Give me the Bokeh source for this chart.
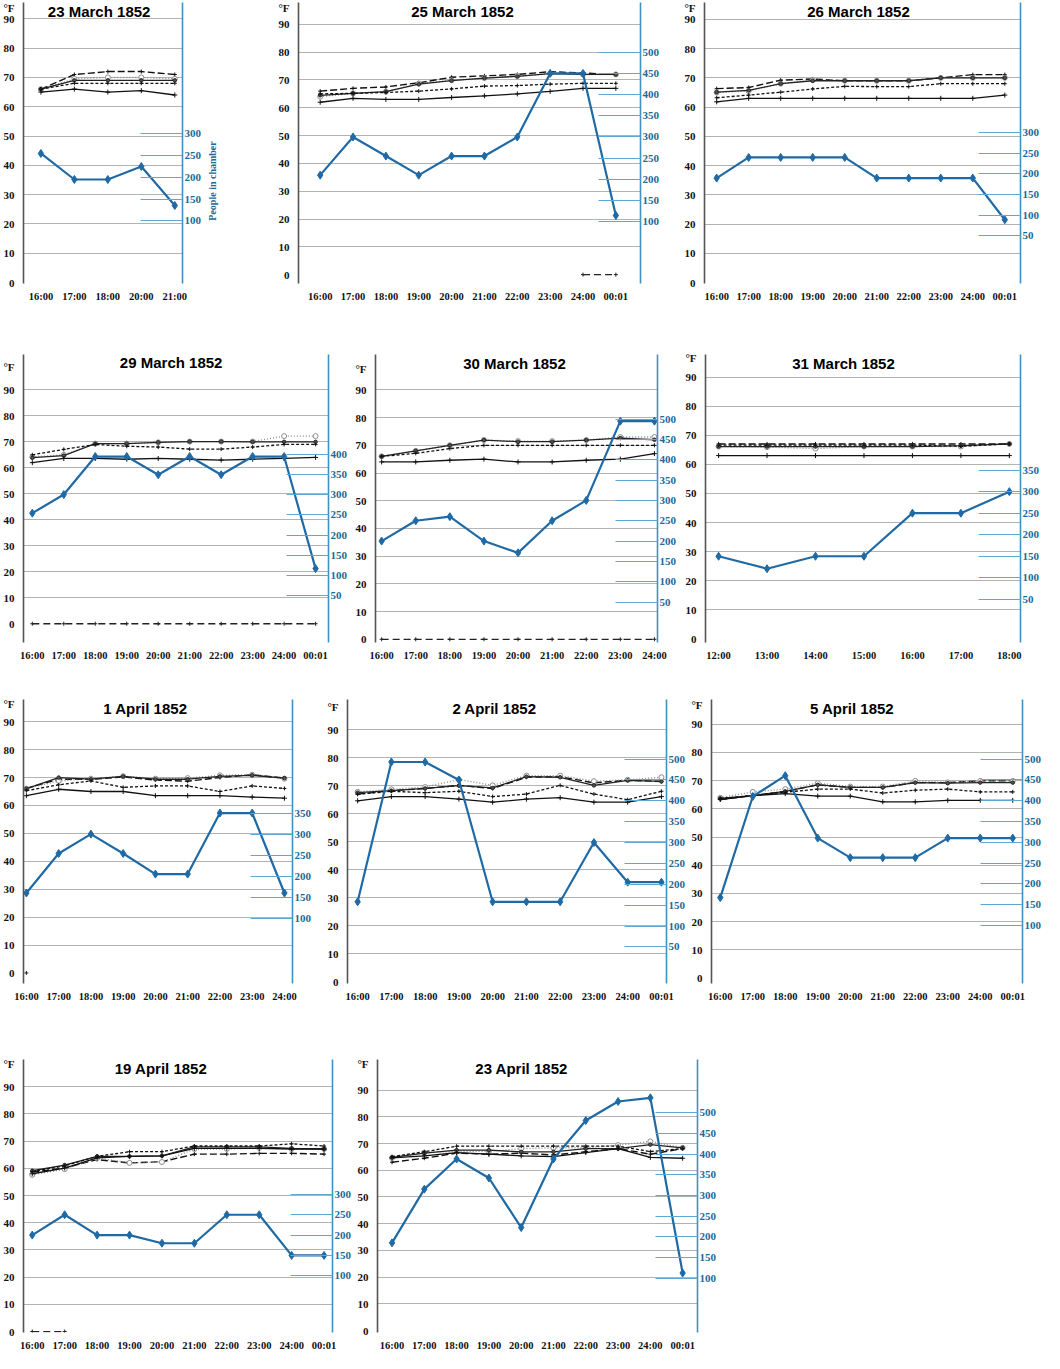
import math
from bokeh.plotting import figure
from bokeh.layouts import column, row
from bokeh.models import Range1d, LinearAxis, FixedTicker, Label
from bokeh.embed import file_html
from bokeh.resources import INLINE

# ---------------- data ----------------
T5 = ["16:00", "17:00", "18:00", "20:00", "21:00"]
T10 = ["16:00", "17:00", "18:00", "19:00", "20:00", "21:00", "22:00", "23:00", "24:00", "00:01"]
T9 = ["16:00", "17:00", "18:00", "19:00", "20:00", "21:00", "22:00", "23:00", "24:00"]
T7 = ["12:00", "13:00", "14:00", "15:00", "16:00", "17:00", "18:00"]

MAR23_LONG = [66, 71, 72, 72, 71]
MAR23_CIRC = [66, 69.5, 70, 70, 69.5]
MAR23_UPPER = [66, 69, 69, 69, 69]
MAR23_SHORT = [66, 68, 68, 68, 68]
MAR23_LOWER = [65, 66, 65, 65.5, 64]
MAR23_PEOPLE = [255, 195, 195, 225, 135]
MAR23_TICKS = [100, 150, 200, 250, 300]

MAR25_LONG = [66, 67, 67.5, 69, 71, 71.5, 72, 73, 72.5, 72]
MAR25_UPPER = [64.5, 65.2, 65.8, 68.5, 69.8, 70.7, 71.3, 72.3, 72, 72]
MAR25_CIRC = [64, 65.2, 65.8, 68.7, 69.9, 70.7, 71.4, 72.3, 72, 72]
MAR25_SHORT = [65, 65.2, 65.5, 66, 66.8, 67.8, 68, 68.5, 68.8, 68.8]
MAR25_LOWER = [62, 63.4, 63, 63, 63.7, 64.3, 65, 65.9, 67, 67]
MAR25_ZERO = [None, None, None, None, None, None, None, None, 0, 0]
MAR25_PEOPLE = [210, 300, 255, 210, 255, 255, 300, 450, 450, 115]
MAR25_TICKS = [100, 150, 200, 250, 300, 350, 400, 450, 500]

MAR26_LONG = [66.3, 66.7, 69.2, 69.6, 69, 69, 69, 70, 71.1, 71.1]
MAR26_UPPER = [65.1, 65.7, 68, 69, 69, 69, 69, 70, 70, 70]
MAR26_CIRC = [65, 65.5, 68, 69.2, 69, 69, 69, 70, 70, 70]
MAR26_SHORT = [63.2, 64.1, 65.1, 66.2, 67.1, 67, 67, 68, 68, 68]
MAR26_LOWER = [61.8, 63, 63, 63, 63, 63, 63, 63, 63, 64.1]
MAR26_PEOPLE = [190, 240, 240, 240, 240, 190, 190, 190, 190, 89]
MAR26_TICKS = [50, 100, 150, 200, 250, 300]

MAR29_CIRC = [64.2, 65, 69.3, 69.3, 69.8, 70.1, 70.1, 70.1, 72.2, 72.2]
MAR29_UPPER = [63.9, 64.7, 69.3, 69.3, 69.8, 70.1, 70.1, 70, 70, 70]
MAR29_SHORT = [65, 67.1, 69, 68.3, 68, 67.2, 67.2, 68, 69, 69]
MAR29_LOWER = [62, 63.6, 63.6, 63.3, 63.6, 63.3, 63, 63.3, 63.6, 64]
MAR29_ZERO = [0, 0, 0, 0, 0, 0, 0, 0, 0, 0]
MAR29_PEOPLE = [254, 300, 394, 394, 349, 394, 349, 394, 394, 117]
MAR29_TICKS = [50, 100, 150, 200, 250, 300, 350, 400]

MAR30_UPPER = [66, 68, 70, 71.9, 71.3, 71.3, 71.9, 72.6, 72]
MAR30_CIRC = [66, 68, 70, 71.9, 71.5, 71.5, 71.9, 73, 73]
MAR30_SHORT = [66, 67.1, 68.8, 70, 70, 70, 70, 70, 70]
MAR30_LOWER = [64, 64, 64.6, 65, 64, 64, 64.6, 65, 67]
MAR30_ZERO = [0, 0, 0, 0, 0, 0, 0, 0, 0]
MAR30_PEOPLE = [200, 250, 260, 200, 171, 250, 300, 495, 495]
MAR30_TICKS = [50, 100, 150, 200, 250, 300, 350, 400, 450, 500]

MAR31_LONG = [67, 67, 67, 67, 67, 67, 67]
MAR31_CIRC = [66.1, 65.9, 65.4, 66.1, 66.1, 66.1, 67]
MAR31_UPPER = [66.1, 66.1, 66.1, 66.1, 66.1, 66.4, 67]
MAR31_SHORT = [66.6, 66.6, 66.6, 66.6, 66.6, 66.2, 67]
MAR31_LOWER = [63, 63, 63, 63, 63, 63, 63]
MAR31_PEOPLE = [150, 121, 150, 150, 250, 250, 300]
MAR31_TICKS = [50, 100, 150, 200, 250, 300, 350]

APR1_LONG = [66.1, 69.4, 69.4, 70.2, 69.1, 68.7, 70, 71, 69.8]
APR1_UPPER = [66, 70, 69.4, 70.4, 69.4, 69.4, 70.4, 70.8, 69.8]
APR1_CIRC = [66, 68.8, 69.6, 70.5, 69.6, 69.8, 70.8, 71, 69.6]
APR1_SHORT = [65.3, 67.4, 68.8, 66.5, 67, 67, 65, 67, 66.1]
APR1_LOWER = [63.5, 65.8, 65, 65, 63.5, 63.5, 63.5, 63, 62.6]
APR1_ZERO = [0, None, None, None, None, None, None, None, None]
APR1_PEOPLE = [160, 254, 300, 254, 205, 205, 350, 350, 160]
APR1_TICKS = [100, 150, 200, 250, 300, 350]

APR2_LONG = [67, 68.2, 69, 70.1, 69, 73, 73.2, 71, 71.9, 71.5]
APR2_UPPER = [67.5, 68.2, 69, 70, 69.2, 73.2, 73, 70.1, 71.9, 71.5]
APR2_CIRC = [67.8, 68.7, 69.5, 72.2, 70.1, 73.6, 73.6, 71.6, 72.1, 73]
APR2_SHORT = [66.9, 68, 67.5, 68, 66.1, 67, 70.1, 67, 65, 68]
APR2_LOWER = [64.6, 66.1, 66.1, 65.2, 64.1, 65.2, 65.7, 64.1, 64.1, 66.1]
APR2_PEOPLE = [158, 493, 493, 450, 158, 158, 158, 300, 205, 205]
APR2_TICKS = [50, 100, 150, 200, 250, 300, 350, 400, 450, 500]

APR5_LONG = [63.3, 64.7, 66.2, 68.5, 67.6, 67.6, 69.3, 69.3, 69.9, 69.9]
APR5_UPPER = [63.7, 64.7, 66.2, 68.5, 67.6, 67.6, 69.3, 69.1, 69.3, 69.3]
APR5_CIRC = [63.9, 66, 67, 69.1, 67.9, 67.9, 69.9, 69.4, 69.9, 69.9]
APR5_SHORT = [63.7, 64.7, 65.9, 67, 67, 65.6, 66.6, 67, 66, 66]
APR5_LOWER = [63.3, 64.7, 65.4, 64.5, 64.5, 62.5, 62.5, 63, 63, 63]
APR5_PEOPLE = [167, 410, 460, 310, 263, 263, 263, 310, 310, 310]
APR5_TICKS = [100, 150, 200, 250, 300, 350, 400, 450, 500]

APR19_SHORT = [58.8, 60.9, 64.4, 66.1, 66.1, 68.2, 68.2, 68.2, 69, 68.2]
APR19_UPPER = [59.1, 61.2, 64.4, 64.4, 64.6, 67.9, 67.9, 67.9, 67.3, 67.1]
APR19_CIRC = [57.6, 59.7, 63.8, 62, 62.3, 67.1, 67.1, 67.5, 67.1, 67.1]
APR19_LOWER = [58, 60.1, 63.8, 64.4, 64.6, 67.3, 67.3, 67.3, 67.1, 67.1]
APR19_LONG = [58.6, 60.1, 63.2, 62, 62.4, 65.2, 65.2, 65.5, 65.5, 65.2]
APR19_ZERO = [0, 0, None, None, None, None, None, None, None, None]
APR19_PEOPLE = [200, 250, 200, 200, 180, 180, 250, 250, 150, 150]
APR19_TICKS = [100, 150, 200, 250, 300]

APR23_SHORT = [65.1, 66.9, 69, 69, 69, 69, 69, 69, 67, 68.1]
APR23_UPPER = [64.8, 66.4, 67.5, 67.5, 66.9, 66.9, 68.1, 68.1, 69.6, 68.4]
APR23_CIRC = [64.6, 66.6, 67.1, 67.1, 68.1, 68.4, 68.4, 69.4, 70.8, 68.4]
APR23_LONG = [63, 64.5, 66.4, 66, 66.4, 65.7, 66.9, 68.1, 66, 68.1]
APR23_LOWER = [64.6, 65.4, 66.6, 66, 65.4, 65.1, 66.6, 68.1, 64.8, 64.5]
APR23_PEOPLE = [185, 315, 388, 342, 222, 388, 481, 527, 536, 112]
APR23_TICKS = [100, 150, 200, 250, 300, 350, 400, 450, 500]

TEMP_TICKS = [0, 10, 20, 30, 40, 50, 60, 70, 80, 90]
GRID_TICKS = [10, 20, 30, 40, 50, 60, 70, 80, 90]
PEOPLE_LABEL = "People in chamber"

# ---------------- styles ----------------
BLUE = "#1f6aa5"
AXBLUE = "#3f92c2"
TICKBLUE = "#5fa8d2"
LABBLUE = "#1d6a98"
STYLES = {
    "LONG": dict(color="#111111", dash="7 3", width=1.4, marker="cross", ms=4, fill="#111111"),
    "CIRC": dict(color="#8c8c8c", dash="1 2", width=1.4, marker="circle", ms=5, fill="white"),
    "UPPER": dict(color="#222222", dash="solid", width=1.3, marker="circle", ms=3.5, fill="#555555"),
    "SHORT": dict(color="#111111", dash="3 2", width=1.3, marker="cross", ms=4, fill="#111111"),
    "LOWER": dict(color="#111111", dash="solid", width=1.3, marker="cross", ms=5, fill="#111111"),
    "ZERO": dict(color="#222222", dash="7 4", width=1.3, marker="cross", ms=4, fill="#222222"),
}
SERIF = "Liberation Serif"
SANS = "Liberation Sans"


def clean(v):
    return [float("nan") if a is None else a for a in v]


def panel(title, times, series, people, pticks, g, rowtop, rowbot, label_at=None):
    cl, cr, fl, fr, y0, pxd, fb, padl, padr, t0, k, tx, ty, fy = g
    ft = ty - 9
    n = len(times)
    xs = list(range(n))
    xmin, xmax = -padl, n - 1 + padr
    ymin = -(fb - y0) / pxd
    ymax = (y0 - ft) / pxd
    p = figure(width=cr - cl, height=rowbot - rowtop,
               x_range=Range1d(xmin, xmax), y_range=Range1d(ymin, ymax),
               output_backend="svg", toolbar_location=None,
               min_border_left=fl - cl, min_border_right=cr - fr,
               min_border_top=ft - rowtop, min_border_bottom=rowbot - fb)
    p.outline_line_color = None
    p.background_fill_color = "white"
    p.border_fill_color = "white"
    p.xgrid.grid_line_color = None
    p.ygrid.ticker = FixedTicker(ticks=GRID_TICKS)
    p.ygrid.grid_line_color = "#b3b3b3"
    p.ygrid.grid_line_width = 1.2

    fval = round((y0 - fy) / pxd, 2)
    ya = p.yaxis[0]
    ya.ticker = FixedTicker(ticks=TEMP_TICKS + [fval])
    ya.major_label_overrides = {fval: "°F"}
    ya.axis_line_color = "#555555"
    ya.axis_line_width = 1.6
    ya.major_tick_line_color = None
    ya.minor_tick_line_color = None
    ya.major_label_text_font = SERIF
    ya.major_label_text_font_style = "bold"
    ya.major_label_text_font_size = "11px"
    ya.major_label_text_color = "#111111"
    ya.major_label_standoff = 3

    xa = p.xaxis[0]
    xa.ticker = FixedTicker(ticks=xs)
    xa.major_label_overrides = {i: t for i, t in enumerate(times)}
    xa.axis_line_color = None
    xa.major_tick_line_color = None
    xa.minor_tick_line_color = None
    xa.major_label_text_font = SERIF
    xa.major_label_text_font_style = "bold"
    xa.major_label_text_font_size = "10.5px"
    xa.major_label_text_color = "#111111"
    xa.major_label_standoff = 1

    p.extra_y_ranges = {"people": Range1d((ymin - t0) / k, (ymax - t0) / k)}
    ra = LinearAxis(y_range_name="people", ticker=FixedTicker(ticks=pticks))
    ra.axis_line_color = AXBLUE
    ra.axis_line_width = 1.6
    ra.major_tick_in = 42
    ra.major_tick_out = 0
    ra.major_tick_line_color = TICKBLUE
    ra.major_tick_line_width = 1
    ra.minor_tick_line_color = None
    ra.major_label_text_font = SERIF
    ra.major_label_text_font_style = "bold"
    ra.major_label_text_font_size = "11px"
    ra.major_label_text_color = LABBLUE
    ra.major_label_standoff = 2
    p.add_layout(ra, "right")

    if label_at is not None:
        la = LinearAxis(y_range_name="people", ticker=FixedTicker(ticks=[label_at]))
        la.major_label_overrides = {label_at: PEOPLE_LABEL}
        la.major_label_orientation = math.pi / 2
        la.axis_line_color = None
        la.major_tick_line_color = None
        la.minor_tick_line_color = None
        la.major_label_text_font = SERIF
        la.major_label_text_font_style = "bold"
        la.major_label_text_font_size = "10px"
        la.major_label_text_color = LABBLUE
        la.major_label_standoff = 2
        p.add_layout(la, "right")

    for name, vals in series:
        s = STYLES[name]
        v = clean(vals)
        p.line(xs, v, line_color=s["color"], line_dash=s["dash"], line_width=s["width"])
        p.scatter(xs, v, marker=s["marker"], size=s["ms"], line_color=s["color"],
                  fill_color=s["fill"], line_width=1)

    p.line(xs, people, y_range_name="people", line_color=BLUE, line_width=2.2)
    p.scatter(xs, people, y_range_name="people", marker="diamond", size=8,
              line_color=BLUE, fill_color=BLUE)

    tdx = xmin + (tx - fl) / (fr - fl) * (xmax - xmin)
    tdy = (y0 - ty) / pxd
    p.add_layout(Label(x=tdx, y=tdy, text=title, text_align="center", text_baseline="middle",
                       text_font=SANS, text_font_style="bold", text_font_size="15px",
                       text_color="#000000"))
    return p


# geometry: canvas l/r, frame l/r, y of 0°F, px per degree, frame bottom,
# x pads, people mapping (t0, k), title centre x/y, °F y
G = {
    "MAR23": (8, 250, 26, 190, 290, 2.94, 291, 0.52, 0.23, 6.3, 0.148, 104, 18, 15),
    "MAR25": (250, 680, 306, 648, 285, 2.82, 294, 0.66, 0.75, 3.75, 0.1525, 470, 18, 15),
    "MAR26": (680, 1052, 712, 1028, 304, 3.07, 305, 0.38, 0.49, 8.9, 0.1412, 866, 19, 16),
    "MAR29": (8, 360, 22, 336, 638, 2.77, 658, 0.28, 0.41, 3.0, 0.1557, 174, 360, 364),
    "MAR30": (360, 690, 383, 665, 651.6, 2.925, 655, 0.18, 0.09, 6.1, 0.1467, 522, 360, 366),
    "MAR31": (690, 1052, 713, 1028, 646.4, 2.91, 650, 0.27, 0.23, 6.2, 0.148, 851, 371, 366),
    "APR1": (8, 330, 22, 300, 986.2, 2.85, 997, 0.09, 0.25, 4.5, 0.1508, 148, 716, 712),
    "APR2": (330, 696, 355, 674, 996.2, 2.89, 998, 0.3, 0.15, 5.0, 0.149, 502, 714, 713),
    "APR5": (696, 1052, 716, 1030, 992.4, 2.91, 998, 0.27, 0.3, 3.9, 0.1475, 858, 714, 711),
    "APR19": (8, 362, 22, 341, 1347, 2.8, 1348, 0.27, 0.26, 5.55, 0.1495, 164, 1076, 1072),
    "APR23": (362, 730, 383, 705, 1346, 2.75, 1348, 0.45, 0.46, 4.2, 0.1547, 528, 1076, 1072),
}
R1, R2, R3, R4, R5 = 8, 320, 672, 1012, 1361

p1 = panel("23 March 1852", T5, [("LONG", MAR23_LONG), ("CIRC", MAR23_CIRC), ("UPPER", MAR23_UPPER),
                                  ("SHORT", MAR23_SHORT), ("LOWER", MAR23_LOWER)],
           MAR23_PEOPLE, MAR23_TICKS, G["MAR23"], R1, R2, label_at=100)
p2 = panel("25 March 1852", T10, [("LONG", MAR25_LONG), ("CIRC", MAR25_CIRC), ("UPPER", MAR25_UPPER),
                                   ("SHORT", MAR25_SHORT), ("LOWER", MAR25_LOWER), ("ZERO", MAR25_ZERO)],
           MAR25_PEOPLE, MAR25_TICKS, G["MAR25"], R1, R2)
p3 = panel("26 March 1852", T10, [("LONG", MAR26_LONG), ("CIRC", MAR26_CIRC), ("UPPER", MAR26_UPPER),
                                   ("SHORT", MAR26_SHORT), ("LOWER", MAR26_LOWER)],
           MAR26_PEOPLE, MAR26_TICKS, G["MAR26"], R1, R2)
p4 = panel("29 March 1852", T10, [("CIRC", MAR29_CIRC), ("UPPER", MAR29_UPPER), ("SHORT", MAR29_SHORT),
                                   ("LOWER", MAR29_LOWER), ("ZERO", MAR29_ZERO)],
           MAR29_PEOPLE, MAR29_TICKS, G["MAR29"], R2, R3)
p5 = panel("30 March 1852", T9, [("CIRC", MAR30_CIRC), ("UPPER", MAR30_UPPER), ("SHORT", MAR30_SHORT),
                                  ("LOWER", MAR30_LOWER), ("ZERO", MAR30_ZERO)],
           MAR30_PEOPLE, MAR30_TICKS, G["MAR30"], R2, R3)
p6 = panel("31 March 1852", T7, [("LONG", MAR31_LONG), ("CIRC", MAR31_CIRC), ("UPPER", MAR31_UPPER),
                                  ("SHORT", MAR31_SHORT), ("LOWER", MAR31_LOWER)],
           MAR31_PEOPLE, MAR31_TICKS, G["MAR31"], R2, R3)
p7 = panel("1 April 1852", T9, [("LONG", APR1_LONG), ("CIRC", APR1_CIRC), ("UPPER", APR1_UPPER),
                                 ("SHORT", APR1_SHORT), ("LOWER", APR1_LOWER), ("ZERO", APR1_ZERO)],
           APR1_PEOPLE, APR1_TICKS, G["APR1"], R3, R4)
p8 = panel("2 April 1852", T10, [("LONG", APR2_LONG), ("CIRC", APR2_CIRC), ("UPPER", APR2_UPPER),
                                  ("SHORT", APR2_SHORT), ("LOWER", APR2_LOWER)],
           APR2_PEOPLE, APR2_TICKS, G["APR2"], R3, R4)
p9 = panel("5 April 1852", T10, [("LONG", APR5_LONG), ("CIRC", APR5_CIRC), ("UPPER", APR5_UPPER),
                                  ("SHORT", APR5_SHORT), ("LOWER", APR5_LOWER)],
           APR5_PEOPLE, APR5_TICKS, G["APR5"], R3, R4)
p10 = panel("19 April 1852", T10, [("LONG", APR19_LONG), ("CIRC", APR19_CIRC), ("UPPER", APR19_UPPER),
                                    ("SHORT", APR19_SHORT), ("LOWER", APR19_LOWER), ("ZERO", APR19_ZERO)],
            APR19_PEOPLE, APR19_TICKS, G["APR19"], R4, R5)
p11 = panel("23 April 1852", T10, [("LONG", APR23_LONG), ("CIRC", APR23_CIRC), ("UPPER", APR23_UPPER),
                                    ("SHORT", APR23_SHORT), ("LOWER", APR23_LOWER)],
            APR23_PEOPLE, APR23_TICKS, G["APR23"], R4, R5)

layout = column(row(p1, p2, p3), row(p4, p5, p6), row(p7, p8, p9), row(p10, p11))
open("out.html", "w").write(file_html(layout, INLINE))
